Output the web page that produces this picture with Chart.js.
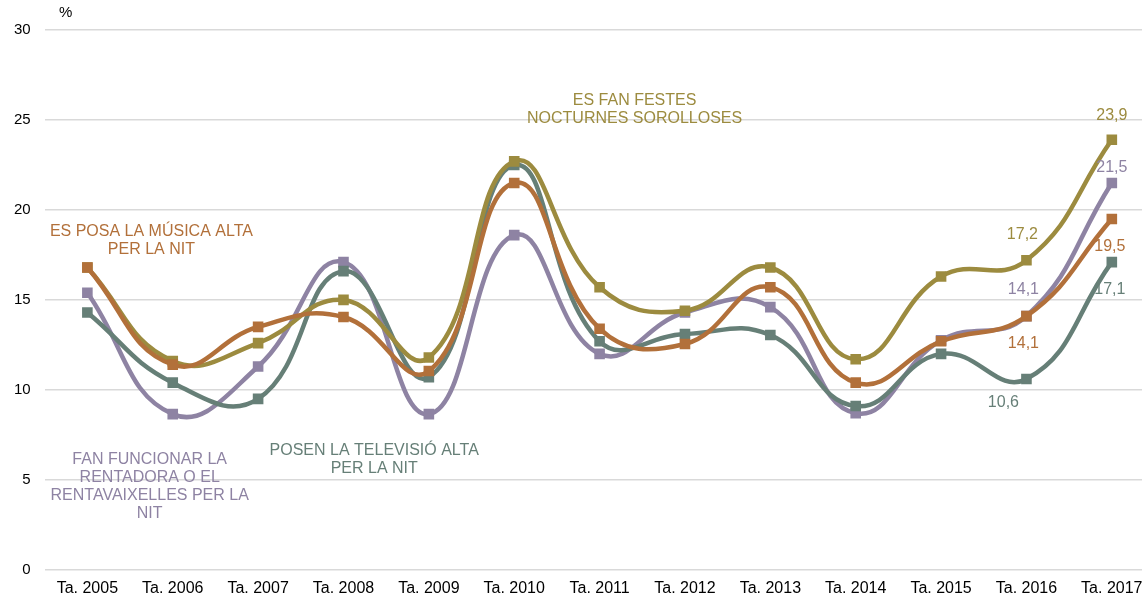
<!DOCTYPE html>
<html>
<head>
<meta charset="utf-8">
<script src="https://cdn.jsdelivr.net/npm/chart.js@4"></script>
<style>
    body { margin: 0; background: #fff; overflow: hidden; }
    #wrap { width: 1142px; height: 596px; overflow: hidden; }
</style>
</head>
<body>
<div id="wrap"><canvas id="lineChart" width="1162" height="607"></canvas></div>
<script>
const years = ['Ta. 2005', 'Ta. 2006', 'Ta. 2007', 'Ta. 2008', 'Ta. 2009', 'Ta. 2010', 'Ta. 2011',
    'Ta. 2012', 'Ta. 2013', 'Ta. 2014', 'Ta. 2015', 'Ta. 2016', 'Ta. 2017'];
const yTicks = [0, 5, 10, 15, 20, 25, 30];

const musica = [16.8, 11.4, 13.5, 14.05, 11.05, 21.5, 13.4, 12.55, 15.7, 10.4, 12.7, 14.1, 19.5];
const festes = [16.8, 11.6, 12.6, 15.0, 11.8, 22.7, 15.7, 14.4, 16.8, 11.7, 16.3, 17.2, 23.9];
const televisio = [14.3, 10.4, 9.5, 16.6, 10.7, 22.5, 12.7, 13.1, 13.05, 9.1, 12.0, 10.6, 17.1];
const rentadora = [15.4, 8.65, 11.3, 17.1, 8.65, 18.6, 12.0, 14.3, 14.6, 8.7, 12.75, 14.1, 21.5];

const ORANGE = '#B2703A';
const OLIVE = '#9C8B3F';
const GREEN = '#667F77';
const PURPLE = '#8E83A3';
const FONT = '"Liberation Sans", Arial, sans-serif';

// series names drawn inside the plot, anchored on category index / value
const seriesNotes = [
    { lines: ['ES FAN FESTES', 'NOCTURNES SOROLLOSES'], x: 6.41, y: 26.1, color: OLIVE },
    { lines: ['ES POSA LA MÚSICA ALTA', 'PER LA NIT'], x: 0.75, y: 18.8, color: ORANGE },
    { lines: ['FAN FUNCIONAR LA', 'RENTADORA O EL', 'RENTAVAIXELLES PER LA', 'NIT'], x: 0.73, y: 6.1, color: PURPLE },
    { lines: ['POSEN LA TELEVISIÓ ALTA', 'PER LA NIT'], x: 3.36, y: 6.6, color: GREEN }
];

// value labels: dataset, point, pixel offset from the point
const valueNotes = [
    { ds: 1, i: 12, dx: 0, dy: -24 },
    { ds: 1, i: 11, dx: -4, dy: -26 },
    { ds: 3, i: 12, dx: 0, dy: -15 },
    { ds: 3, i: 11, dx: -3, dy: -27 },
    { ds: 0, i: 12, dx: -2, dy: 28 },
    { ds: 0, i: 11, dx: -3, dy: 27 },
    { ds: 2, i: 12, dx: -2, dy: 27 },
    { ds: 2, i: 11, dx: -23, dy: 24 }
];

const notesPlugin = {
    id: 'notes',
    afterDatasetsDraw(chart) {
        const c = chart.ctx;
        const xs = chart.scales.x;
        const ys = chart.scales.y;
        c.save();
        c.font = '16px ' + FONT;
        c.textAlign = 'center';
        c.textBaseline = 'middle';
        seriesNotes.forEach(n => {
            const px = xs.getPixelForValue(n.x);
            const py = ys.getPixelForValue(n.y);
            c.fillStyle = n.color;
            n.lines.forEach((t, k) => c.fillText(t, px, py + k * 18));
        });
        valueNotes.forEach(n => {
            const ds = chart.data.datasets[n.ds];
            const pt = chart.getDatasetMeta(n.ds).data[n.i];
            c.fillStyle = ds.borderColor;
            c.fillText(ds.data[n.i].toFixed(1).replace('.', ','), pt.x + n.dx, pt.y + n.dy);
        });
        c.fillStyle = '#000';
        c.textAlign = 'left';
        c.font = '15px ' + FONT;
        c.fillText('%', 59, 13);
        c.restore();
    }
};

function makeSet(label, data, color) {
    return {
        label: label,
        data: data,
        borderColor: color,
        backgroundColor: color,
        borderWidth: 4.5,
        tension: 0.45,
        pointStyle: 'rect',
        pointRadius: 7.5,
        pointHoverRadius: 7.5,
        pointBorderWidth: 0
    };
}

document.addEventListener('DOMContentLoaded', function() {
    const ctx = document.getElementById('lineChart');
    new Chart(ctx, {
        type: 'line',
        data: {
            labels: years,
            datasets: [
                makeSet('Es posa la música alta per la nit', musica, ORANGE),
                makeSet('Es fan festes nocturnes sorolloses', festes, OLIVE),
                makeSet('Posen la televisió alta per la nit', televisio, GREEN),
                makeSet('Fan funcionar la rentadora o el rentavaixelles per la nit', rentadora, PURPLE)
            ]
        },
        options: {
            responsive: false,
            animation: false,
            layout: { padding: { top: 30, right: 0, left: 0, bottom: 0 } },
            scales: {
                x: {
                    offset: true,
                    grid: { display: false, drawTicks: false },
                    border: { display: false },
                    ticks: { color: '#000', font: { family: FONT, size: 16 }, padding: 9, maxRotation: 0 }
                },
                y: {
                    min: 0,
                    max: 30,
                    afterBuildTicks: axis => { axis.ticks = yTicks.map(v => ({ value: v })); },
                    grid: { color: '#d9d9d9', lineWidth: 1.5, drawTicks: false },
                    border: { display: false },
                    ticks: { color: '#000', font: { family: FONT, size: 15 }, padding: 14 }
                }
            },
            plugins: {
                legend: { display: false },
                tooltip: { enabled: false }
            }
        },
        plugins: [notesPlugin]
    });
});
</script>
</body>
</html>
